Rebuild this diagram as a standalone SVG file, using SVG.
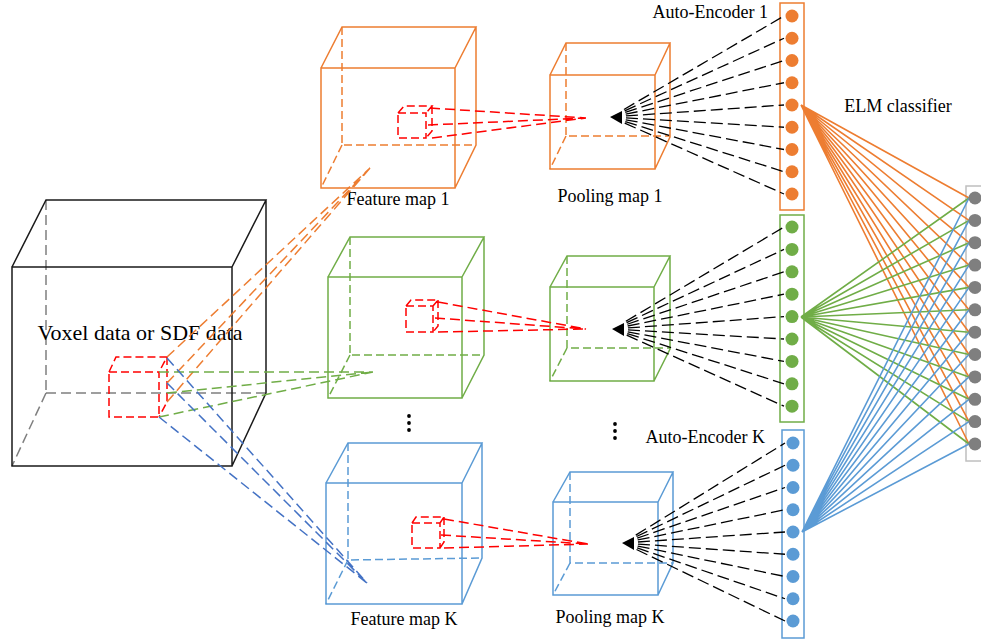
<svg xmlns="http://www.w3.org/2000/svg" width="981" height="642" viewBox="0 0 981 642">
<style>
text{font-family:"Liberation Serif","Times New Roman",serif;fill:#000}
.lbl{font-size:18px}
.big{font-size:22px}
.cube{fill:none;stroke-width:1.5}
.dash{fill:none;stroke-width:1.5;stroke-dasharray:8 4}
.conn{fill:none;stroke-width:1.5;stroke-dasharray:10 5}
.blk{stroke:#1a1a1a}
.gry{stroke:#7f7f7f;stroke-dasharray:10 5;fill:none;stroke-width:1.5}
.or{stroke:#ED7D31}
.gr{stroke:#70AD47}
.bl{stroke:#5B9BD5}
.bd{stroke:#4472C4}
.rd{stroke:#FF0000}
.fan{stroke:#000;stroke-width:1.3;stroke-dasharray:12 5;stroke-dashoffset:2;fill:none}
.elm{stroke-width:1.6;fill:none}
.no{fill:#ED7D31}.ng{fill:#70AD47}.nb{fill:#5B9BD5}.nk{fill:#7f7f7f}
</style>
<defs>
  <mask id="m1" maskUnits="userSpaceOnUse" x="0" y="0" width="981" height="642">
    <rect width="981" height="642" fill="#fff"/><circle cx="611" cy="117" r="14" fill="#000"/>
  </mask>
  <mask id="m2" maskUnits="userSpaceOnUse" x="0" y="0" width="981" height="642">
    <rect width="981" height="642" fill="#fff"/><circle cx="613" cy="329" r="14" fill="#000"/>
  </mask>
  <mask id="m3" maskUnits="userSpaceOnUse" x="0" y="0" width="981" height="642">
    <rect width="981" height="642" fill="#fff"/><circle cx="623" cy="543" r="14" fill="#000"/>
  </mask>
</defs>

<!-- Input volume -->
<g id="input-volume">
  <path class="gry" d="M46,200 L46,393 M46,393 L266,393 M46,393 L12,466"/>
  <path class="cube blk" d="M12,267 L232,267 L232,466 L12,466 Z M12,267 L46,200 L266,200 L232,267 M266,200 L266,393 L232,466"/>
  <text class="big" x="140" y="340" text-anchor="middle">Voxel data or SDF data</text>
  <path class="dash rd" d="M109,372 L159,372 L159,417 L109,417 Z M109,372 L116,357 L167,357 L159,372 M167,357 L167,402 L159,417"/>
</g>

<!-- Feature map 1 -->
<g id="feature-map-1">
  <path class="dash or" d="M342,27 L342,145 L476,145 M342,145 L321,188"/>
  <path class="cube or" d="M321,68 L455,68 L455,188 L321,188 Z M321,68 L342,27 L476,27 L455,68 M476,27 L476,145 L455,188"/>
  <path class="dash rd" d="M398,113 L426,113 L426,138 L398,138 Z M398,113 L404,106 L432,106 L426,113 M432,106 L432,131 L426,138"/>
  <text class="lbl" x="398" y="205" text-anchor="middle">Feature map  1</text>
</g>

<!-- Feature map 2 -->
<g id="feature-map-2">
  <path class="dash gr" d="M350,237 L350,355 L484,355 M350,355 L328,398"/>
  <path class="cube gr" d="M328,277 L462,277 L462,398 L328,398 Z M328,277 L350,237 L484,237 L462,277 M484,237 L484,355 L462,398"/>
  <path class="dash rd" d="M406,306 L433,306 L433,332 L406,332 Z M406,306 L411,300 L438,300 L433,306 M438,300 L438,326 L433,332"/>
</g>

<!-- Feature map K -->
<g id="feature-map-k">
  <path class="dash bl" d="M348,443 L348,560 L482,558 M348,560 L326,604"/>
  <path class="cube bl" d="M326,483 L462,483 L462,604 L326,604 Z M326,483 L348,443 L482,443 L462,483 M482,443 L482,558 L462,604"/>
  <path class="dash rd" d="M412,523 L440,523 L440,548 L412,548 Z M412,523 L416,517 L444,517 L440,523 M444,517 L444,542 L440,548"/>
  <text class="lbl" x="404" y="625" text-anchor="middle">Feature map K</text>
</g>

<!-- Pooling map 1 -->
<g id="pooling-map-1">
  <path class="dash or" d="M566,43 L566,136 L670,136 M566,136 L550,169"/>
  <path class="cube or" d="M550,75 L655,75 L655,169 L550,169 Z M550,75 L566,43 L670,43 L655,75 M670,43 L670,137 L655,169"/>
  <polygon points="610,117 622,111 622,124" fill="#000"/>
  <text class="lbl" x="610" y="202" text-anchor="middle">Pooling map  1</text>
</g>

<!-- Pooling map 2 -->
<g id="pooling-map-2">
  <path class="dash gr" d="M567,256 L567,348 L670,348 M567,348 L550,381"/>
  <path class="cube gr" d="M550,287 L654,287 L654,381 L550,381 Z M550,287 L567,256 L670,256 L654,287 M670,256 L670,349 L654,381"/>
  <polygon points="612,329 624,323 624,336" fill="#000"/>
</g>

<!-- Pooling map K -->
<g id="pooling-map-k">
  <path class="dash bl" d="M570,472 L570,563 L673,563 M570,563 L553,595"/>
  <path class="cube bl" d="M553,502 L658,502 L658,595 L553,595 Z M553,502 L570,472 L673,472 L658,502 M673,472 L673,563 L658,595"/>
  <polygon points="622,543 634,537 634,550" fill="#000"/>
  <text class="lbl" x="610" y="623" text-anchor="middle">Pooling map K</text>
</g>

<!-- Ellipsis -->
<g id="ellipsis-1" fill="#000">
  <circle cx="409" cy="416" r="1.9"/><circle cx="409" cy="423" r="1.9"/><circle cx="409" cy="430" r="1.9"/>
</g>
<g id="ellipsis-2" fill="#000">
  <circle cx="615" cy="424" r="1.9"/><circle cx="615" cy="431" r="1.9"/><circle cx="615" cy="438" r="1.9"/>
</g>

<!-- Auto-Encoder 1 -->
<g id="auto-encoder-1">
  <text class="lbl" x="768" y="18" text-anchor="end">Auto-Encoder 1</text>
  <rect x="780" y="3" width="24" height="207" fill="#fff" class="cube or"/>
  <g class="no">
    <circle cx="792" cy="16" r="6.5"/><circle cx="792" cy="38.25" r="6.5"/><circle cx="792" cy="60.5" r="6.5"/>
    <circle cx="792" cy="82.75" r="6.5"/><circle cx="792" cy="105" r="6.5"/><circle cx="792" cy="127.25" r="6.5"/>
    <circle cx="792" cy="149.5" r="6.5"/><circle cx="792" cy="171.75" r="6.5"/><circle cx="792" cy="194" r="6.5"/>
  </g>
</g>

<!-- Auto-Encoder 2 -->
<g id="auto-encoder-2">
  <rect x="780" y="215" width="24" height="207" fill="#fff" class="cube gr"/>
  <g class="ng">
    <circle cx="792" cy="227" r="6.5"/><circle cx="792" cy="249.4" r="6.5"/><circle cx="792" cy="271.8" r="6.5"/>
    <circle cx="792" cy="294.2" r="6.5"/><circle cx="792" cy="316.6" r="6.5"/><circle cx="792" cy="339" r="6.5"/>
    <circle cx="792" cy="361.4" r="6.5"/><circle cx="792" cy="383.8" r="6.5"/><circle cx="792" cy="406.2" r="6.5"/>
  </g>
</g>

<!-- Auto-Encoder K -->
<g id="auto-encoder-k">
  <text class="lbl" x="765" y="443" text-anchor="end">Auto-Encoder K</text>
  <rect x="782" y="430" width="22" height="208" fill="#fff" class="cube bl"/>
  <g class="nb">
    <circle cx="793" cy="443" r="6.5"/><circle cx="793" cy="465.25" r="6.5"/><circle cx="793" cy="487.5" r="6.5"/>
    <circle cx="793" cy="509.75" r="6.5"/><circle cx="793" cy="532" r="6.5"/><circle cx="793" cy="554.25" r="6.5"/>
    <circle cx="793" cy="576.5" r="6.5"/><circle cx="793" cy="598.75" r="6.5"/><circle cx="793" cy="621" r="6.5"/>
  </g>
</g>

<!-- ELM classifier -->
<g id="elm-classifier">
  <text class="lbl" x="898" y="112" text-anchor="middle">ELM classifier</text>
  <rect x="966" y="186" width="30" height="275" fill="#fff" stroke="#bfbfbf" stroke-width="1.5"/>
</g>

<!-- Connectors -->
<g id="connectors">
  <!-- input to feature maps -->
  <path class="conn or" d="M167,357 L370,168 M167,383 L370,168 M167,402 L370,168"/>
  <path class="conn gr" d="M159,372 L373,372 M167,393 L373,372 M159,417 L373,372"/>
  <path class="conn bd" d="M167,358 L367,583 M167,383 L367,583 M159,417 L367,583"/>
  <!-- feature maps to pooling -->
  <path class="conn rd" d="M430,108 L586,118 M428,125 L586,118 M432,138 L586,118"/>
  <path class="conn rd" d="M438,302 L586,329 M435,318 L586,329 M438,332 L586,329"/>
  <path class="conn rd" d="M444,519 L588,544 M441,535 L588,544 M444,548 L588,544"/>
  <!-- pooling to auto-encoder 1 -->
  <path class="fan" mask="url(#m1)" d="M611,117 L784,16 M611,117 L784,38.25 M611,117 L784,60.5 M611,117 L784,82.75 M611,117 L784,105 M611,117 L784,127.25 M611,117 L784,149.5 M611,117 L784,171.75 M611,117 L784,194"/>
  <!-- pooling to auto-encoder 2 -->
  <path class="fan" mask="url(#m2)" d="M613,329 L784,227 M613,329 L784,249.4 M613,329 L784,271.8 M613,329 L784,294.2 M613,329 L784,316.6 M613,329 L784,339 M613,329 L784,361.4 M613,329 L784,383.8 M613,329 L784,406.2"/>
  <!-- pooling to auto-encoder K -->
  <path class="fan" mask="url(#m3)" d="M623,543 L785,443 M623,543 L785,465.25 M623,543 L785,487.5 M623,543 L785,509.75 M623,543 L785,532 M623,543 L785,554.25 M623,543 L785,576.5 M623,543 L785,598.75 M623,543 L785,621"/>
  <!-- ELM connections -->
  <path class="elm or" d="M801,105 L969,198 M801,105 L969,220.4 M801,105 L969,242.7 M801,105 L969,265.1 M801,105 L969,287.4 M801,105 L969,309.8 M801,105 L969,332.2 M801,105 L969,354.5 M801,105 L969,376.9 M801,105 L969,399.3 M801,105 L969,421.6 M801,105 L969,444"/>
  <path class="elm gr" d="M801,317 L969,198 M801,317 L969,220.4 M801,317 L969,242.7 M801,317 L969,265.1 M801,317 L969,287.4 M801,317 L969,309.8 M801,317 L969,332.2 M801,317 L969,354.5 M801,317 L969,376.9 M801,317 L969,399.3 M801,317 L969,421.6 M801,317 L969,444"/>
  <path class="elm bl" d="M802,532 L969,198 M802,532 L969,220.4 M802,532 L969,242.7 M802,532 L969,265.1 M802,532 L969,287.4 M802,532 L969,309.8 M802,532 L969,332.2 M802,532 L969,354.5 M802,532 L969,376.9 M802,532 L969,399.3 M802,532 L969,421.6 M802,532 L969,444"/>
</g>

<!-- ELM nodes on top -->
<g id="elm-nodes" class="nk">
  <circle cx="975" cy="198" r="6.5"/><circle cx="975" cy="220.4" r="6.5"/><circle cx="975" cy="242.7" r="6.5"/>
  <circle cx="975" cy="265.1" r="6.5"/><circle cx="975" cy="287.4" r="6.5"/><circle cx="975" cy="309.8" r="6.5"/>
  <circle cx="975" cy="332.2" r="6.5"/><circle cx="975" cy="354.5" r="6.5"/><circle cx="975" cy="376.9" r="6.5"/>
  <circle cx="975" cy="399.3" r="6.5"/><circle cx="975" cy="421.6" r="6.5"/><circle cx="975" cy="444" r="6.5"/>
</g>
</svg>
